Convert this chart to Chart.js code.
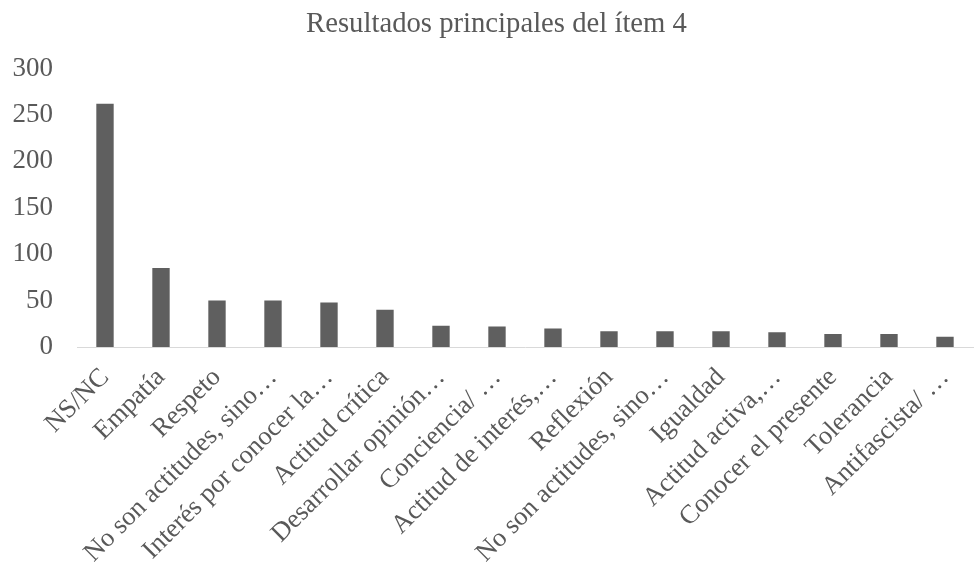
<!DOCTYPE html>
<html>
<head>
<meta charset="utf-8">
<script src="https://cdn.jsdelivr.net/npm/chart.js@4"></script>
<style>
  html, body { margin: 0; padding: 0; background: #ffffff; }
  #wrap { width: 974px; height: 565px; position: relative; }
</style>
</head>
<body>
<div id="wrap"><canvas id="c"></canvas></div>
<script>
const chartTitle = "Resultados principales del ítem 4";
const categories = [
  "NS/NC",
  "Empatía",
  "Respeto",
  "No son actitudes, sino…",
  "Interés por conocer la…",
  "Actitud crítica",
  "Desarrollar opinión…",
  "Conciencia/ …",
  "Actitud de interés,…",
  "Reflexión",
  "No son actitudes, sino…",
  "Igualdad",
  "Actitud activa,…",
  "Conocer el presente",
  "Tolerancia",
  "Antifascista/ …"
];
const values = [262, 85, 50, 50, 48, 40, 23, 22, 20, 17, 17, 17, 16, 14, 14, 11];
const yTicks = [0, 50, 100, 150, 200, 250, 300];

const textColor = "#595959";
const fontFamily = "'Liberation Serif', 'Times New Roman', serif";

// shift the centred title slightly right, as in the reference
const titleShift = {
  id: "titleShift",
  afterLayout(chart) {
    if (chart.titleBlock) { chart.titleBlock.left = 20; }
  }
};

new Chart(document.getElementById("c"), {
  type: "bar",
  data: {
    labels: categories,
    datasets: [{
      data: values,
      backgroundColor: "#5f5f5f",
      barPercentage: 0.31,
      categoryPercentage: 1.0
    }]
  },
  plugins: [titleShift],
  options: {
    responsive: true,
    maintainAspectRatio: false,
    animation: false,
    layout: { padding: { left: 0, right: 1, top: 0, bottom: 0 } },
    plugins: {
      legend: { display: false },
      tooltip: { enabled: false },
      title: {
        display: true,
        text: chartTitle,
        color: textColor,
        font: { family: fontFamily, size: 28.7, weight: "normal" },
        padding: { top: 7, bottom: 27 }
      }
    },
    scales: {
      x: {
        grid: { display: false, drawTicks: false },
        border: { display: true, color: "#d9d9d9", width: 1 },
        ticks: {
          color: textColor,
          font: { family: fontFamily, size: 26.5 },
          maxRotation: 45,
          minRotation: 45,
          autoSkip: false,
          padding: 15
        },
        afterFit: (s) => { s.height = 218; s.paddingLeft = 0; s.paddingRight = 0; }
      },
      y: {
        min: 0,
        max: 300,
        afterBuildTicks: (s) => { s.ticks = yTicks.map(v => ({ value: v })); },
        grid: { display: false, drawTicks: false },
        border: { display: false },
        ticks: {
          color: textColor,
          font: { family: fontFamily, size: 27 },
          padding: 24
        },
        afterFit: (s) => { s.width = 77; }
      }
    }
  }
});
</script>
</body>
</html>
